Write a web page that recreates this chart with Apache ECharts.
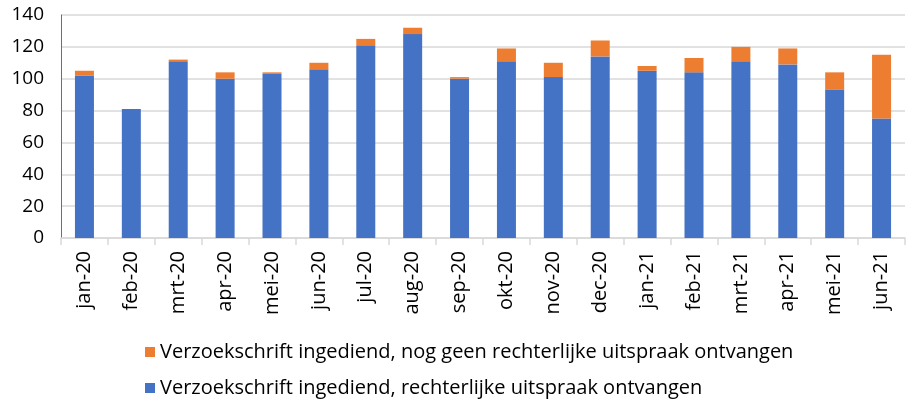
<!DOCTYPE html>
<html>
<head>
<meta charset="utf-8">
<script src="https://cdn.jsdelivr.net/npm/echarts@6/dist/echarts.min.js"></script>
<style>
  html, body { margin: 0; padding: 0; background: #fff; }
  #chart { width: 907px; height: 405px; }
</style>
</head>
<body>
<div id="chart"></div>
<script>
// Months (Dutch abbreviations)
const months = ['jan-20','feb-20','mrt-20','apr-20','mei-20','jun-20','jul-20','aug-20','sep-20',
                'okt-20','nov-20','dec-20','jan-21','feb-21','mrt-21','apr-21','mei-21','jun-21'];

// Petitions filed, court ruling received
const ruled = [102, 81, 111, 100, 103, 106, 121, 128, 100, 111, 101, 114, 105, 104, 111, 109, 93, 75];

// Petitions filed, no court ruling received yet
const pending = [3, 0, 1, 4, 1, 4, 4, 4, 1, 8, 9, 10, 3, 9, 9, 10, 11, 40];

const nameRuled = 'Verzoekschrift ingediend, rechterlijke uitspraak ontvangen';
const namePending = 'Verzoekschrift ingediend, nog geen rechterlijke uitspraak ontvangen';

const font = '"Open Sans", Lato, sans-serif';

const chart = echarts.init(document.getElementById('chart'), null, { renderer: 'canvas' });
chart.setOption({
  animation: false,
  textStyle: { fontFamily: font },
  grid: { left: 61, right: 2, top: 15, bottom: 167, containLabel: false },
  legend: {
    orient: 'vertical',
    left: 140,
    top: 337,
    itemWidth: 10,
    itemHeight: 10,
    itemGap: 16,
    icon: 'rect',
    textStyle: { fontFamily: font, fontSize: 20, color: '#000' },
    data: [namePending, nameRuled]
  },
  xAxis: {
    type: 'category',
    data: months,
    axisLine: { lineStyle: { color: '#d9d9d9', width: 1.5 } },
    axisTick: { show: true, length: 7, lineStyle: { color: '#d9d9d9', width: 1.5 } },
    axisLabel: { rotate: 90, fontSize: 20, color: '#000', margin: 13, fontFamily: font }
  },
  yAxis: {
    type: 'value',
    min: 0, max: 140, interval: 20,
    axisLine: { show: true, lineStyle: { color: '#4472c4', width: 1 } },
    axisTick: { show: false },
    splitLine: { lineStyle: { color: '#d9d9d9', width: 1.5 } },
    axisLabel: { fontSize: 19, color: '#000', margin: 17, fontFamily: font }
  },
  series: [
    {
      name: nameRuled, type: 'bar', stack: 'total', barWidth: 19,
      itemStyle: { color: '#4472c4' }, data: ruled
    },
    {
      name: namePending, type: 'bar', stack: 'total', barWidth: 19,
      itemStyle: { color: '#ed7d31' }, data: pending
    }
  ]
});
</script>
</body>
</html>
